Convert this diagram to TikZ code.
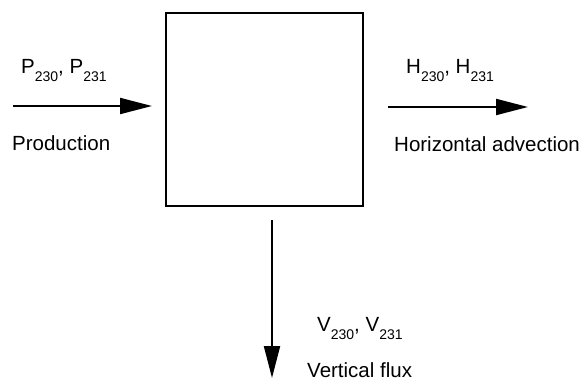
\documentclass[tikz,border=0pt]{standalone}
\usepackage{fontspec}
\setmainfont{Liberation Sans}
\usetikzlibrary{arrows.meta}
\newcommand\lowsub[1]{\raisebox{-8pt}{\fontsize{14}{14}\selectfont #1}}
\begin{document}
\begin{tikzpicture}[x=1pt,y=-1pt,
  lbl/.style={anchor=base west,inner sep=0pt,font=\fontsize{20.5}{24}\selectfont},
  flow/.style={line width=2pt,-{Triangle[length=32pt,width=16pt]}},
  boxst/.style={draw,line width=2pt,minimum width=197pt,minimum height=193pt,inner sep=0pt}]
\useasboundingbox (0,0) rectangle (586,382);
\node[boxst] (box) at (264.5,109.5) {};
\coordinate (ls) at (13,106);
\coordinate (re) at (528,107);
\coordinate (de) at (272,378);
\draw[flow,shorten >=13pt] (ls) -- (box.west |- ls);
\draw[flow,shorten <=24pt] (box.east |- re) -- (re);
\draw[flow,shorten <=13pt] (box.south -| de) -- (de);
\node[lbl] (pl) at (21,74) {P\lowsub{230}, P\lowsub{231}};
\node[lbl] (prod) at (12,151) {Production};
\node[lbl] (hl) at (406,74) {H\lowsub{230}, H\lowsub{231}};
\node[lbl] (hadv) at (394,152) {Horizontal advection};
\node[lbl] (vl) at (317,331) {V\lowsub{230}, V\lowsub{231}};
\node[lbl] (vflux) at (307,377) {Vertical flux};
\end{tikzpicture}
\end{document}
